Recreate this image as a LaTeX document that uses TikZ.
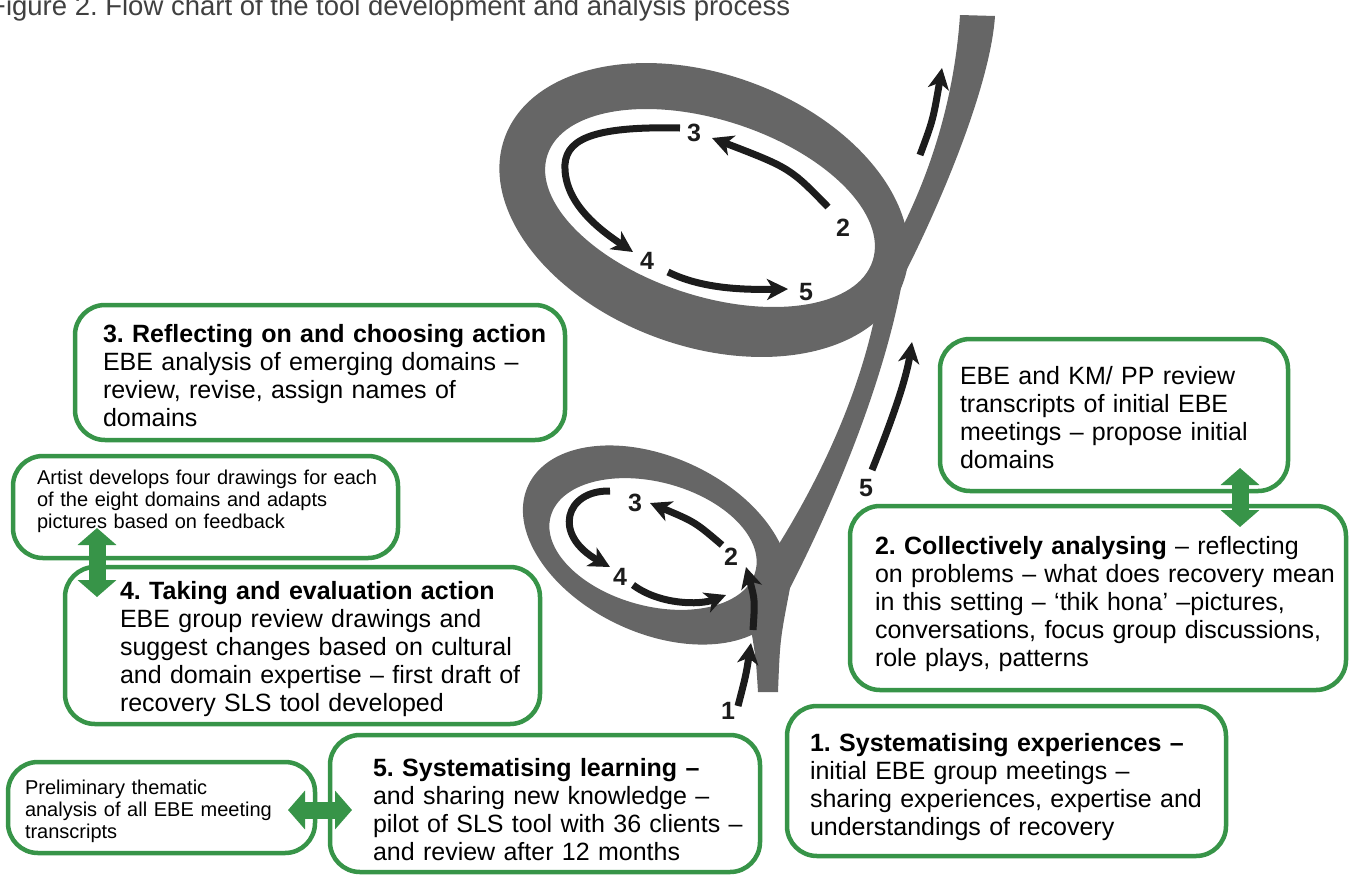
\documentclass[tikz,border=0pt]{standalone}
\usepackage{fontspec}
\setmainfont{Liberation Sans}
\usetikzlibrary{arrows.meta,calc}
\definecolor{bandgray}{RGB}{102,102,102}
\definecolor{arrowblack}{RGB}{28,28,28}
\definecolor{boxgreen}{RGB}{55,148,72}
\frenchspacing
\tikzset{
  stage/.style={draw=boxgreen,line width=4.5pt,rounded corners=30pt,fill=white,outer sep=0pt,
    anchor=north west,align=left,inner ysep=0pt,font=\fontsize{25}{28}\selectfont},
  note/.style={stage,font=\fontsize{20}{22}\selectfont},
  turn/.style={draw=arrowblack,line width=7pt,-{Stealth[length=21pt,width=21pt,inset=6pt]}},
  num/.style={inner sep=0pt,text=arrowblack,font=\fontsize{25}{25}\selectfont\bfseries},
  twoway/.style={draw=boxgreen,line width=17pt,{Triangle[length=17pt,width=38pt]}-{Triangle[length=17pt,width=38pt]}}
}
\begin{document}
\begin{tikzpicture}[x=1pt,y=-1pt]
\useasboundingbox (0,0) rectangle (1349,876);
% title, cut at the page edge
\node[anchor=base west,inner sep=0pt,text=black!75,font=\fontsize{27.5}{30}\selectfont] (title) at (-11,15)
  {Figure 2. Flow chart of the tool development and analysis process};
% the spiral band
\fill[bandgray,even odd rule] (704,210) circle[x radius=212,y radius=136,rotate=-20]
  (710,208) circle[x radius=171,y radius=88,rotate=-18];
\fill[bandgray,even odd rule] (656,545) circle[x radius=141,y radius=88,rotate=-25]
  (653,544) circle[x radius=106,y radius=62,rotate=-15];
\fill[bandgray] (758,692) -- (778,692) .. controls (780,640) .. (790,588)
  .. controls (835,500) and (885,380) .. (903,277)
  .. controls (935,215) and (990,90) .. (995,16) -- (960,15)
  .. controls (955,90) and (935,160) .. (905,222)
  -- (885,250) -- (878,300)
  .. controls (862,390) and (820,480) .. (772,555)
  -- (750,600) -- (752,635) .. controls (756,660) .. (758,692) -- cycle;
% lower loop
\draw[turn] (738,706) .. controls (746,675) .. (751,643);
\draw[turn] (753,630) .. controls (755,600) .. (746,567);
\draw[turn] (722,545) .. controls (695,522) .. (650,503);
\draw[turn] (610,491) .. controls (565,490) and (552,535) .. (610,567);
\draw[turn] (633,585) .. controls (660,605) and (700,605) .. (726,595);
% upper loop
\draw[turn] (828,207) .. controls (790,168) .. (712,138);
\draw[turn] (680,128) .. controls (590,126) and (563,140) .. (565,170)
  .. controls (567,205) and (600,230) .. (633,252);
\draw[turn] (668,272) .. controls (700,288) and (740,290) .. (788,289);
\draw[turn] (920,155) .. controls (933,120) .. (942,68);
\draw[turn] (872,470) .. controls (892,420) and (906,380) .. (912,342);
% numbers
\node[num] (l1) at (728,711) {1};
\node[num] (l2) at (731,557) {2};
\node[num] (l3) at (635,503) {3};
\node[num] (l4) at (620,577) {4};
\node[num] (u2) at (843,228) {2};
\node[num] (u3) at (694,133) {3};
\node[num] (u4) at (647,261) {4};
\node[num] (u5) at (806,292) {5};
\node[num] (r5) at (866,488) {5};
% boxes
\node[stage,minimum width=490pt,minimum height=135pt,text width=434pt,inner xsep=28pt,text height=23.5pt] (reflect) at (75,305)
  {\mbox{\textbf{3. Reflecting on and choosing action}}\\
   \mbox{EBE analysis of emerging domains –}\\
   \mbox{review, revise, assign names of}\\
   \mbox{domains}};
\node[note,minimum width=385pt,minimum height=102pt,text width=337pt,inner xsep=24pt,text depth=60pt] (artist) at (13,456)
  {\mbox{Artist develops four drawings for each}\\
   \mbox{of the eight domains and adapts}\\
   \mbox{pictures based on feedback}};
\node[stage,minimum width=475pt,minimum height=157pt,text width=365pt,inner xsep=55pt,text height=24.5pt] (takeaction) at (65,567)
  {\mbox{\textbf{4. Taking and evaluation action}}\\
   \mbox{EBE group review drawings and}\\
   \mbox{suggest changes based on cultural}\\
   \mbox{and domain expertise – first draft of}\\
   \mbox{recovery SLS tool developed}};
\node[note,minimum width=307pt,minimum height=91pt,text width=273pt,inner xsep=17pt,text height=21.8pt] (prelim) at (8,762)
  {\mbox{Preliminary thematic}\\
   \mbox{analysis of all EBE meeting}\\
   \mbox{transcripts}};
\node[stage,minimum width=430pt,minimum height=137pt,text width=344pt,inner xsep=43pt,text height=30pt] (learn) at (330,735)
  {\mbox{\textbf{5. Systematising learning –}}\\
   \mbox{and sharing new knowledge –}\\
   \mbox{pilot of SLS tool with 36 clients –}\\
   \mbox{and review after 12 months}};
\node[stage,minimum width=439pt,minimum height=150pt,text width=393pt,inner xsep=23pt,text height=30pt] (experience) at (787,706)
  {\mbox{\textbf{1. Systematising experiences –}}\\
   \mbox{initial EBE group meetings –}\\
   \mbox{sharing experiences, expertise and}\\
   \mbox{understandings of recovery}};
\node[stage,minimum width=348pt,minimum height=152pt,text width=308pt,inner xsep=20pt,text height=23.5pt] (review) at (940,339)
  {\mbox{EBE and KM/ PP review}\\
   \mbox{transcripts of initial EBE}\\
   \mbox{meetings – propose initial}\\
   \mbox{domains}};
\node[stage,minimum width=496pt,minimum height=184pt,text width=446pt,inner xsep=25pt,text height=31pt] (analyse) at (850,506)
  {\mbox{\textbf{2. Collectively analysing} – reflecting}\\
   \mbox{on problems – what does recovery mean}\\
   \mbox{in this setting – ‘thik hona’ –pictures,}\\
   \mbox{conversations, focus group discussions,}\\
   \mbox{role plays, patterns}};
% links between boxes
\draw[twoway] ($(artist.south west)+(84,-30)$) -- ($(takeaction.north west)+(32,30)$);
\draw[twoway] ($(review.south west)+(300,-23)$) -- ($(analyse.north west)+(390,21)$);
\draw[twoway] ($(prelim.east)+(-27,2.5)$) -- ($(learn.west)+(22,6.5)$);
\end{tikzpicture}
\end{document}
